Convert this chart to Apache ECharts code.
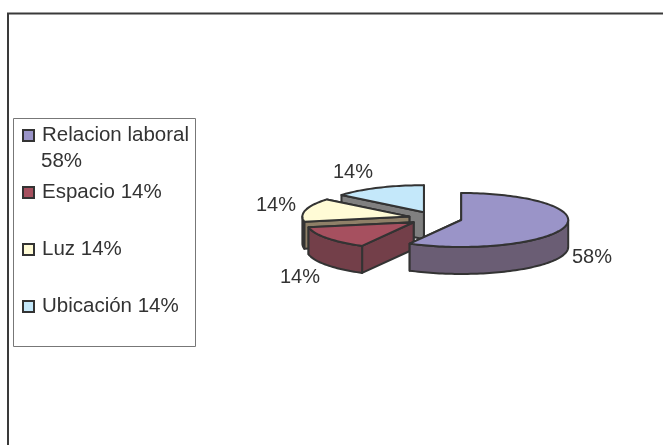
<!DOCTYPE html>
<html><head><meta charset="utf-8">
<style>html,body{margin:0;padding:0;background:#fff}#c{width:663px;height:445px}</style>
<script src="https://cdn.jsdelivr.net/npm/echarts@6/dist/echarts.min.js"></script>
</head><body><div id="c"></div>
<script>
const categories = ['Relacion laboral', 'Espacio', 'Luz', 'Ubicación'];
const values = [58, 14, 14, 14];
const topColors = ['#9a94c8', '#a6505f', '#fffbd6', '#c4e8fa'];
const sideColors = ['#6a5d74', '#733f49', '#8f8068', '#808080'];
const labelPositions = [[592, 257], [300, 277], [276, 205], [353, 172]];

const FONT = '"Liberation Sans", Arial, sans-serif';
const INK = '#333333';
const PIE = {cx: 435.3, cy: 218.3, rx: 107, ry: 27, depth: 27, explode: 0.25};
const total = values.reduce((a, b) => a + b, 0);
const starts = values.map((_, i) => values.slice(0, i).reduce((a, b) => a + b, 0) / total * 2 * Math.PI);

function sliceChildren(i) {
  const a0 = starts[i], a1 = a0 + values[i] / total * 2 * Math.PI, mid = (a0 + a1) / 2;
  const cx = PIE.cx + PIE.explode * PIE.rx * Math.sin(mid);
  const cy = PIE.cy - PIE.explode * PIE.ry * Math.cos(mid);
  const pt = (a, dz) => [cx + PIE.rx * Math.sin(a), cy - PIE.ry * Math.cos(a) + (dz || 0)];
  const arc = (from, to, dz) => {
    const n = Math.max(2, Math.ceil((to - from) / 0.03)), out = [];
    for (let k = 0; k <= n; k++) out.push(pt(from + (to - from) * k / n, dz));
    return out;
  };
  const poly = (points, fill) => ({
    type: 'polygon', shape: {points},
    style: {fill, stroke: INK, lineWidth: 2, lineJoin: 'round'}
  });
  const side = sideColors[i], d = PIE.depth, kids = [];
  const centre = [cx, cy], centreLow = [cx, cy + d];
  kids.push(poly([centre, pt(a1), pt(a1, d), centreLow], side));
  kids.push(poly([centre, pt(a0), pt(a0, d), centreLow], side));
  const f0 = Math.max(a0, Math.PI / 2), f1 = Math.min(a1, 1.5 * Math.PI);
  if (f1 > f0) kids.push(poly(arc(f0, f1, 0).concat(arc(f0, f1, d).reverse()), side));
  kids.push(poly([centre].concat(arc(a0, a1, 0)), topColors[i]));
  kids.push({
    type: 'text',
    style: {x: labelPositions[i][0], y: labelPositions[i][1], text: values[i] + '%',
      fill: INK, font: '20px ' + FONT, align: 'center', verticalAlign: 'middle'}
  });
  return kids;
}

const order = [3, 2, 1, 0];
const series = order.map(i => ({
  type: 'custom',
  name: categories[i] + ' ' + values[i] + '%',
  coordinateSystem: 'none',
  silent: true,
  itemStyle: {color: topColors[i], borderColor: INK, borderWidth: 1},
  data: [[values[i]]],
  renderItem: () => ({type: 'group', children: sliceChildren(i)})
}));

const chart = echarts.init(document.getElementById('c'), null, {renderer: 'canvas'});
chart.setOption({
  animation: false,
  backgroundColor: '#ffffff',
  legend: {
    orient: 'vertical', left: 22, top: 125, padding: 0,
    itemWidth: 11, itemHeight: 11, itemGap: 36, icon: 'rect',
    data: categories.map((c, i) => c + ' ' + values[i] + '%'),
    formatter: n => n === categories[0] + ' ' + values[0] + '%' ? categories[0] : n,
    textStyle: {fontFamily: FONT, fontSize: 20.5, color: INK, padding: [0, 0, 0, 3], lineHeight: 21},
    selectedMode: false
  },
  graphic: [
    {type: 'polyline', silent: true, z: -1, shape: {points: [[8, 445], [8, 13.5], [663, 13.5]]},
     style: {fill: 'none', stroke: '#3a3a3a', lineWidth: 2}},
    {type: 'rect', silent: true, z: -1, shape: {x: 13.5, y: 118.5, width: 182, height: 228},
     style: {fill: '#fff', stroke: '#777777', lineWidth: 1}},
    {type: 'text', silent: true, style: {x: 41, y: 161, text: values[0] + '%', fill: INK,
      font: '20.5px ' + FONT, verticalAlign: 'middle'}}
  ],
  series
});
</script></body></html>
